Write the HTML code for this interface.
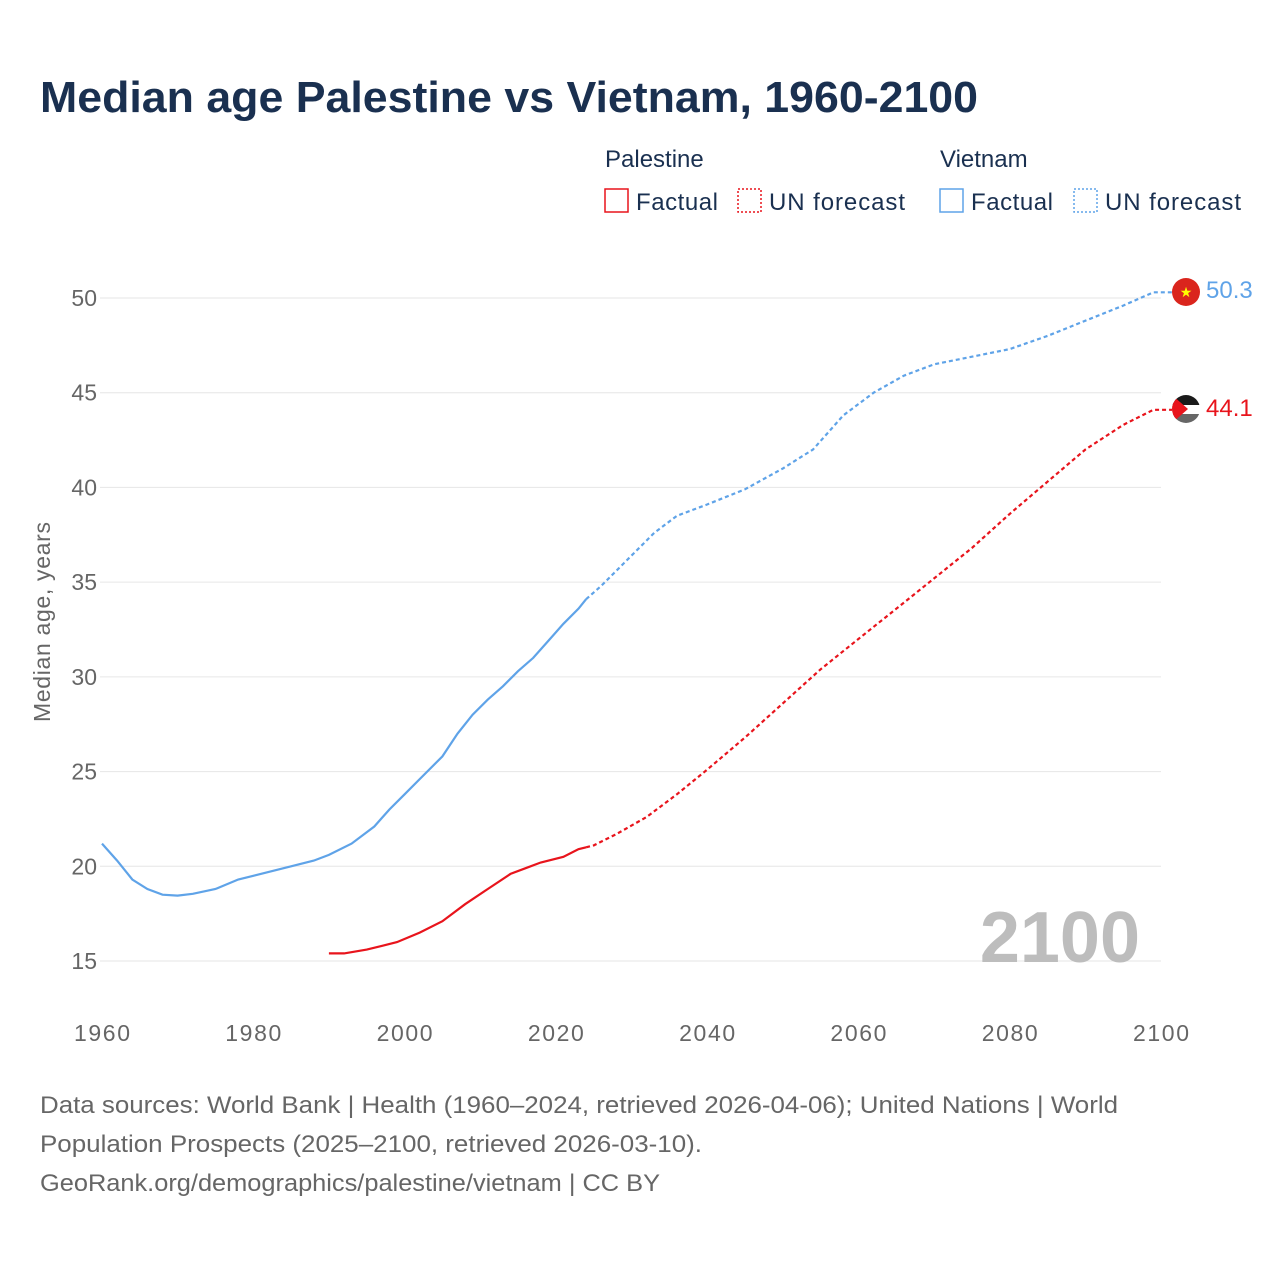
<!DOCTYPE html>
<html><head><meta charset="utf-8"><style>
body{margin:0;background:#fff;font-family:"Liberation Sans",sans-serif;}
</style></head><body>
<svg id="s" width="1280" height="1280" xmlns="http://www.w3.org/2000/svg" font-family="Liberation Sans, sans-serif">
<rect width="1280" height="1280" fill="#fff"/>
<text x="40" y="112" font-size="44" font-weight="bold" fill="#1a3050" textLength="938" lengthAdjust="spacingAndGlyphs">Median age Palestine vs Vietnam, 1960-2100</text>
<text x="605" y="167" font-size="24" fill="#1a3050">Palestine</text>
<text x="940" y="167" font-size="24" fill="#1a3050">Vietnam</text>
<rect x="605" y="189" width="23" height="23" fill="none" stroke="#e8141c" stroke-width="1.5"/>
<text x="636" y="210" font-size="24" fill="#1a3050" textLength="82">Factual</text>
<rect x="738" y="189" width="23" height="23" fill="none" stroke="#e8141c" stroke-width="1.5" stroke-dasharray="2,2"/>
<text x="769" y="210" font-size="24" fill="#1a3050" textLength="136">UN forecast</text>
<rect x="940" y="189" width="23" height="23" fill="none" stroke="#5fa3e8" stroke-width="1.5"/>
<text x="971" y="210" font-size="24" fill="#1a3050" textLength="82">Factual</text>
<rect x="1074" y="189" width="23" height="23" fill="none" stroke="#5fa3e8" stroke-width="1.5" stroke-dasharray="2,2"/>
<text x="1105" y="210" font-size="24" fill="#1a3050" textLength="136">UN forecast</text>
<g id="grid"></g>
<text x="1140" y="962" font-size="72" font-weight="bold" fill="#bdbdbd" text-anchor="end">2100</text>
<text transform="translate(50,622) rotate(-90)" font-size="23" fill="#666" text-anchor="middle" textLength="200">Median age, years</text>
<g id="lines"></g>
<circle cx="1186" cy="292" r="14" fill="#da251d"/>
<text x="1186" y="297" font-size="14" fill="#ff0" text-anchor="middle">★</text>
<text x="1206" y="298" font-size="24" fill="#5fa3e8">50.3</text>
<clipPath id="c"><circle cx="1186" cy="409" r="14"/></clipPath>
<g clip-path="url(#c)"><rect x="1172" y="395" width="28" height="10" fill="#1a1a1a"/><rect x="1172" y="405" width="28" height="9" fill="#fff"/><rect x="1172" y="414" width="28" height="10" fill="#666"/><polygon points="1172,395 1188,409 1172,423" fill="#e8141c"/></g>
<text x="1206" y="416" font-size="24" fill="#e8141c">44.1</text>
<text x="40" y="1113" font-size="24" fill="#666" textLength="1078" lengthAdjust="spacingAndGlyphs">Data sources: World Bank | Health (1960–2024, retrieved 2026-04-06); United Nations | World</text>
<text x="40" y="1152" font-size="24" fill="#666" textLength="662" lengthAdjust="spacingAndGlyphs">Population Prospects (2025–2100, retrieved 2026-03-10).</text>
<text x="40" y="1191" font-size="24" fill="#666" textLength="620" lengthAdjust="spacingAndGlyphs">GeoRank.org/demographics/palestine/vietnam | CC BY</text>
</svg>
<script>
const X=y=>102+(y-1960)*1059/140, Y=v=>298+(50-v)*663/35;
let g='';
for(let v=15;v<=50;v+=5){g+=`<line x1="100" x2="1161" y1="${Y(v)}" y2="${Y(v)}" stroke="#e6e6e6"/><text x="97" y="${Y(v)+8}" font-size="23" fill="#666" text-anchor="end">${v}</text>`;}
for(let y=1960;y<=2100;y+=20)g+=`<text x="${X(y)}" y="1041" font-size="23" fill="#666" text-anchor="middle" textLength="56">${y}</text>`;
document.getElementById('grid').innerHTML=g;
const p=a=>a.map((d,i)=>(i?'L':'M')+X(d[0]).toFixed(1)+','+Y(d[1]).toFixed(1)).join('');
const vf=[[1960,21.2],[1962,20.3],[1964,19.3],[1966,18.8],[1968,18.5],[1970,18.45],[1972,18.55],[1975,18.8],[1978,19.3],[1980,19.5],[1985,20.0],[1988,20.3],[1990,20.6],[1993,21.2],[1996,22.1],[1998,23.0],[2000,23.8],[2002,24.6],[2005,25.8],[2007,27.0],[2009,28.0],[2011,28.8],[2013,29.5],[2015,30.3],[2017,31.0],[2019,31.9],[2021,32.8],[2023,33.6],[2024,34.1]];
const vu=[[2024,34.1],[2026,34.8],[2030,36.4],[2033,37.6],[2036,38.5],[2040,39.1],[2045,39.9],[2050,41.0],[2054,42.0],[2058,43.8],[2062,45.0],[2066,45.9],[2070,46.5],[2075,46.9],[2080,47.3],[2085,48.0],[2090,48.8],[2095,49.6],[2099,50.3],[2103,50.3]];
const pf=[[1990,15.4],[1992,15.4],[1995,15.6],[1999,16.0],[2002,16.5],[2005,17.1],[2008,18.0],[2011,18.8],[2014,19.6],[2016,19.9],[2018,20.2],[2021,20.5],[2023,20.9],[2024,21.0]];
const pu=[[2024,21.0],[2025,21.1],[2028,21.7],[2032,22.6],[2036,23.8],[2040,25.1],[2045,26.8],[2050,28.6],[2055,30.4],[2060,32.0],[2065,33.6],[2070,35.2],[2075,36.8],[2080,38.6],[2085,40.3],[2090,42.0],[2095,43.3],[2099,44.1],[2103,44.1]];
document.getElementById('lines').innerHTML=
`<path d="${p(vf)}" fill="none" stroke="#5fa3e8" stroke-width="2.2"/>`+
`<path d="${p(vu)}" fill="none" stroke="#5fa3e8" stroke-width="2.2" stroke-dasharray="4,3"/>`+
`<path d="${p(pf)}" fill="none" stroke="#e8141c" stroke-width="2.2"/>`+
`<path d="${p(pu)}" fill="none" stroke="#e8141c" stroke-width="2.2" stroke-dasharray="4,3"/>`;
</script>
</body></html>
